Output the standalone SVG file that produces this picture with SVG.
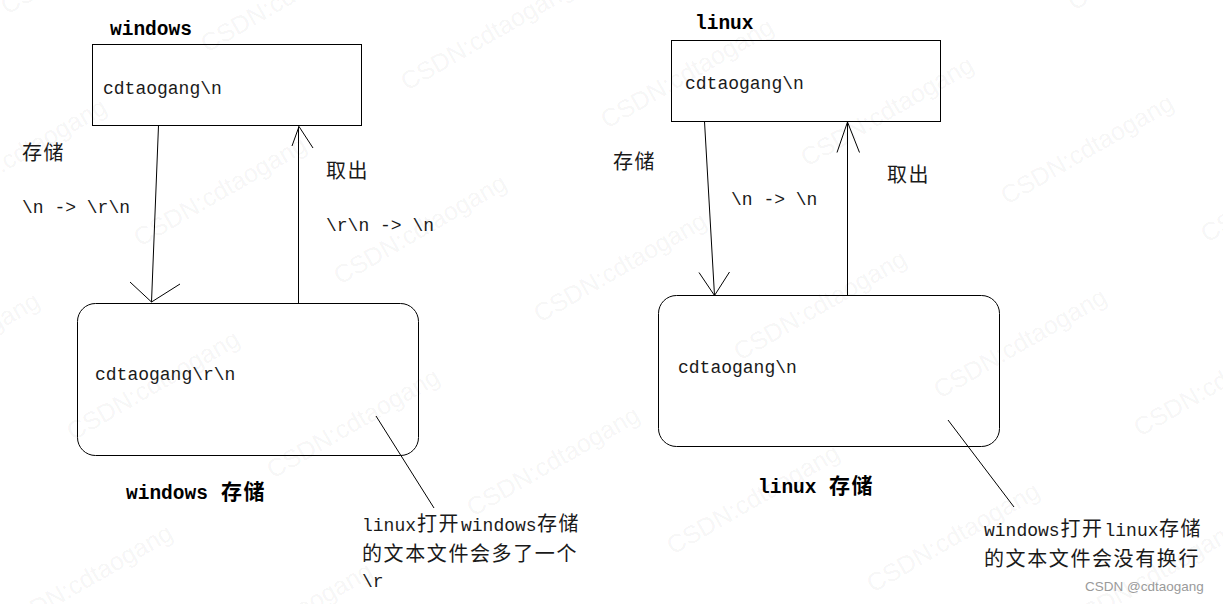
<svg xmlns="http://www.w3.org/2000/svg" xmlns:xlink="http://www.w3.org/1999/xlink" width="1223" height="604" viewBox="0 0 1223 604">
<style>
.m{font-family:"Liberation Mono","Noto Sans CJK SC",monospace;font-size:18px;fill:#1a1a1a}
.z{font-family:"Noto Sans CJK SC",sans-serif;font-size:20px;letter-spacing:1.6px;fill:#1a1a1a}
.b{font-family:"Liberation Mono","Noto Sans CJK SC",monospace;font-size:19.5px;font-weight:bold;fill:#000}
.bz{font-family:"Noto Sans CJK SC",sans-serif;font-size:21px;letter-spacing:1.5px;font-weight:bold;fill:#000}
.box{fill:none;stroke:#000;stroke-width:1}
.ln{fill:none;stroke:#000;stroke-width:1}
.wm{font-family:"Liberation Sans",Arial,sans-serif;font-size:25px;fill:#000;fill-opacity:0.055}
</style>
<defs>
<text id="wmt" class="wm">CSDN:cdtaogang</text>
</defs>
<g id="watermark">
<use xlink:href="#wmt" transform="translate(1074,11) rotate(-30)"/>
<use xlink:href="#wmt" transform="translate(7,15) rotate(-30)"/>
<use xlink:href="#wmt" transform="translate(207,53) rotate(-30)"/>
<use xlink:href="#wmt" transform="translate(407,91) rotate(-30)"/>
<use xlink:href="#wmt" transform="translate(607,129) rotate(-30)"/>
<use xlink:href="#wmt" transform="translate(807,167) rotate(-30)"/>
<use xlink:href="#wmt" transform="translate(1007,205) rotate(-30)"/>
<use xlink:href="#wmt" transform="translate(1207,243) rotate(-30)"/>
<use xlink:href="#wmt" transform="translate(-60,209) rotate(-30)"/>
<use xlink:href="#wmt" transform="translate(140,247) rotate(-30)"/>
<use xlink:href="#wmt" transform="translate(340,285) rotate(-30)"/>
<use xlink:href="#wmt" transform="translate(540,323) rotate(-30)"/>
<use xlink:href="#wmt" transform="translate(740,361) rotate(-30)"/>
<use xlink:href="#wmt" transform="translate(940,399) rotate(-30)"/>
<use xlink:href="#wmt" transform="translate(1140,437) rotate(-30)"/>
<use xlink:href="#wmt" transform="translate(-127,403) rotate(-30)"/>
<use xlink:href="#wmt" transform="translate(73,441) rotate(-30)"/>
<use xlink:href="#wmt" transform="translate(273,479) rotate(-30)"/>
<use xlink:href="#wmt" transform="translate(473,517) rotate(-30)"/>
<use xlink:href="#wmt" transform="translate(673,555) rotate(-30)"/>
<use xlink:href="#wmt" transform="translate(873,593) rotate(-30)"/>
<use xlink:href="#wmt" transform="translate(1073,631) rotate(-30)"/>
<use xlink:href="#wmt" transform="translate(6,635) rotate(-30)"/>
<use xlink:href="#wmt" transform="translate(206,673) rotate(-30)"/>
</g>

<g id="win-app">
<text class="b" x="110" y="35">windows</text>
<rect class="box" x="92.5" y="44.5" width="269" height="81"/>
<text class="m" x="103" y="94">cdtaogang\n</text>
</g>
<g id="win-storage">
<rect class="box" x="77.5" y="303.5" width="341" height="152" rx="18" ry="18"/>
<text class="m" x="95" y="380">cdtaogang\r\n</text>
<text class="b" x="126" y="499">windows</text>
<text class="bz" x="221" y="499">存储</text>
</g>
<g id="win-note">
<text class="m" x="362" y="531">linux</text>
<text class="z" x="417" y="531">打开</text>
<text class="m" x="461" y="531">windows</text>
<text class="z" x="537" y="531">存储</text>
<text class="z" x="362" y="561">的文本文件会多了一个</text>
<text class="m" x="362" y="587">\r</text>
</g>
<g id="win-labels">
<text class="z" x="22" y="160">存储</text>
<text class="m" x="22" y="213">\n -&gt; \r\n</text>
<text class="z" x="326" y="178">取出</text>
<text class="m" x="326" y="231">\r\n -&gt; \n</text>
</g>

<g id="linux-app">
<text class="b" x="695" y="29">linux</text>
<rect class="box" x="671.5" y="40.5" width="269" height="81"/>
<text class="m" x="685" y="89">cdtaogang\n</text>
</g>
<g id="linux-storage">
<rect class="box" x="658.5" y="295.5" width="341" height="151" rx="18" ry="18"/>
<text class="m" x="678" y="373">cdtaogang\n</text>
<text class="b" x="758" y="493">linux</text>
<text class="bz" x="829" y="493">存储</text>
</g>
<g id="linux-note">
<text class="m" x="984" y="536">windows</text>
<text class="z" x="1060.5" y="536">打开</text>
<text class="m" x="1104.5" y="536">linux</text>
<text class="z" x="1159" y="536">存储</text>
<text class="z" x="984" y="566">的文本文件会没有换行</text>
</g>
<g id="linux-labels">
<text class="z" x="613" y="169">存储</text>
<text class="m" x="731" y="205">\n -&gt; \n</text>
<text class="z" x="887" y="182">取出</text>
</g>

<g id="connectors">
<path class="ln" d="M158.5,125.5 L151.5,302"/>
<path class="ln" d="M130,282 L151.5,302 L180,284"/>
<path class="ln" d="M298.5,303 L298.5,126.5"/>
<path class="ln" d="M292,146 L299,126.5 L313,148"/>
<path class="ln" d="M376,416 L434,508"/>
<path class="ln" d="M704.5,121.5 L714.5,295.5"/>
<path class="ln" d="M699,272.5 L714.5,295.5 L729.5,272"/>
<path class="ln" d="M847.5,295.5 L847.5,122"/>
<path class="ln" d="M837,152.5 L847.5,122 L859.5,152.5"/>
<path class="ln" d="M948,420 L1014,507"/>
</g>

<text x="1085" y="591" style="font-family:'Liberation Sans',Arial,sans-serif;font-size:13.5px;fill:#9a9a9a">CSDN @cdtaogang</text>
</svg>
